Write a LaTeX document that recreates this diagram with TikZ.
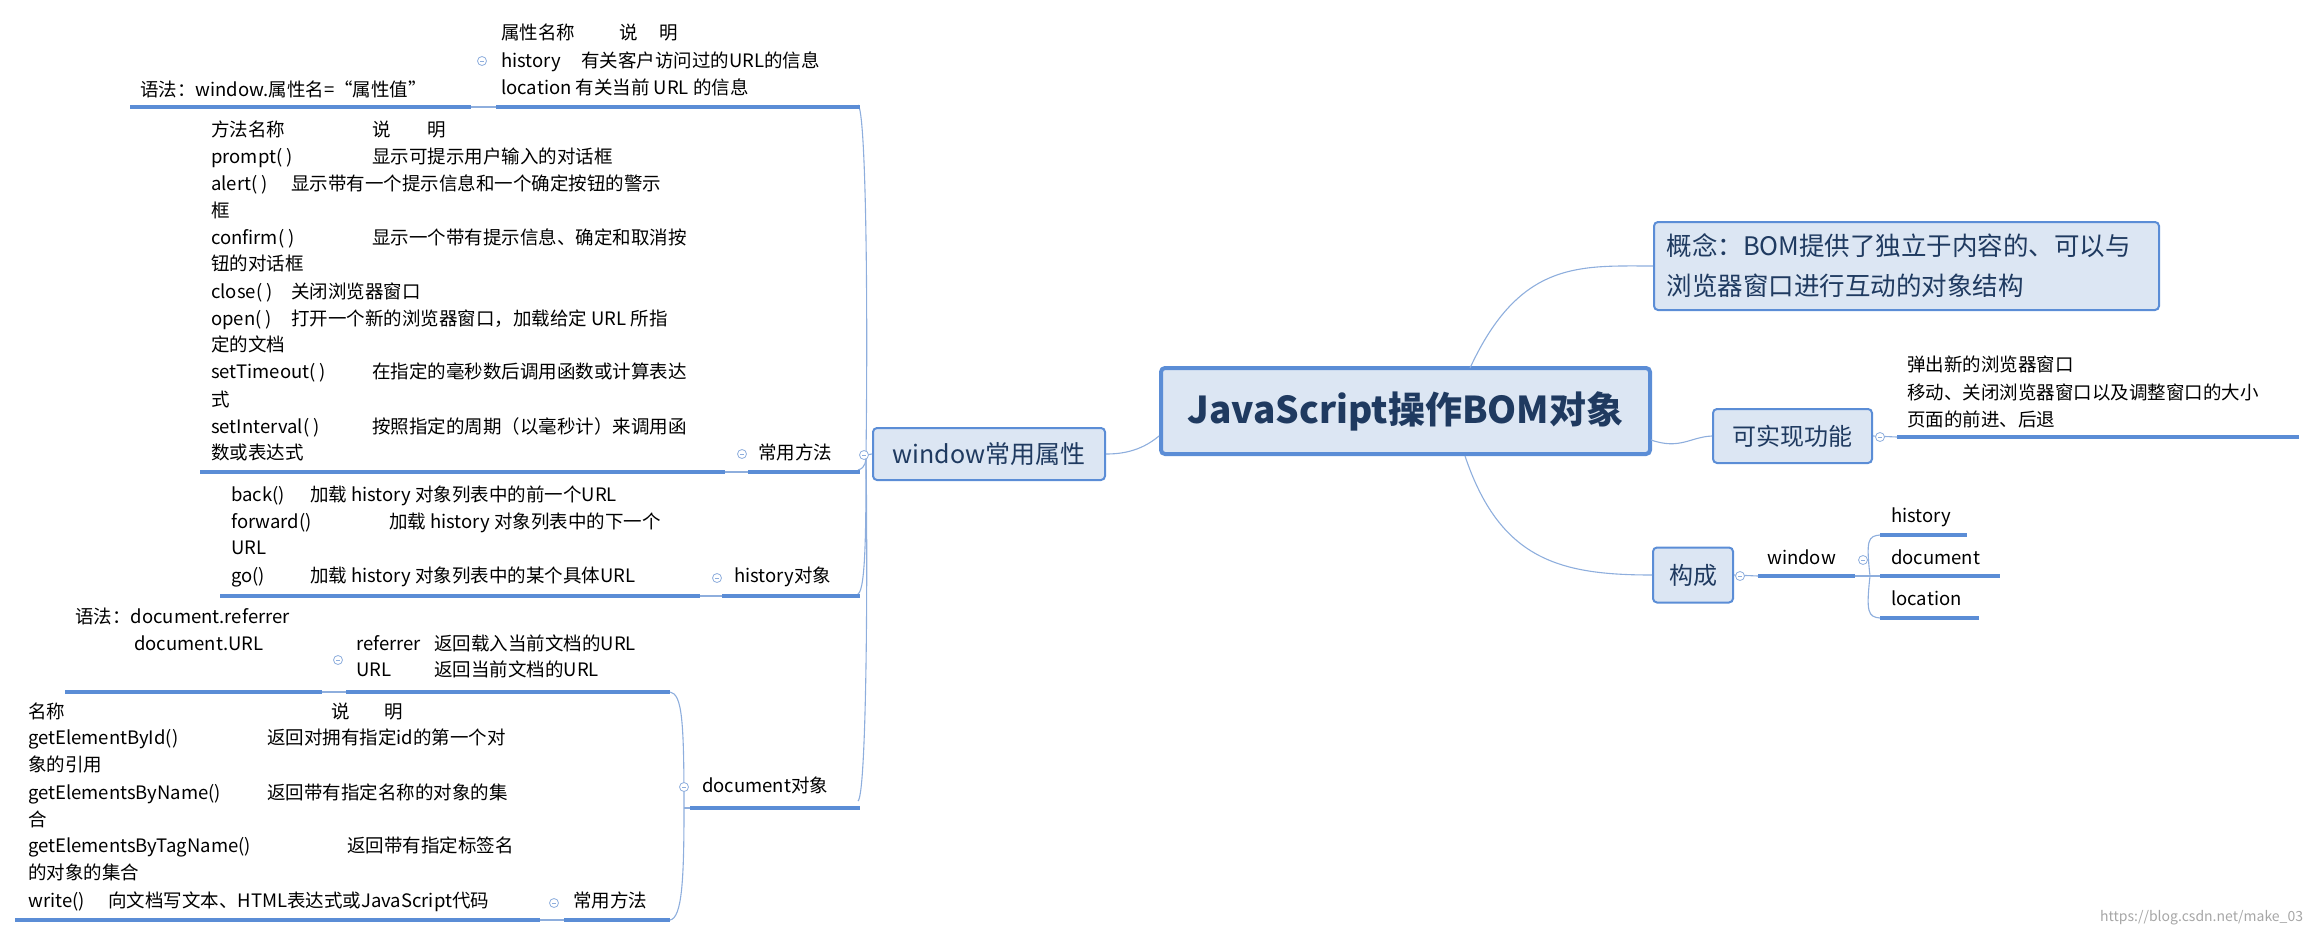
\documentclass[tikz,border=0pt]{standalone}
\usepackage{fontspec}
\setmainfont{Noto Sans CJK SC}
\definecolor{ul}{HTML}{5B8DD6}
\definecolor{cn}{HTML}{8EAEDD}
\definecolor{bf}{HTML}{DCE6F3}
\definecolor{bd}{HTML}{5B8DD6}
\definecolor{tx}{HTML}{1F3A60}
\tikzset{
 t/.style={anchor=base west,inner sep=0,font=\fontsize{18.5}{24}\selectfont},
 box/.style={draw=bd,fill=bf,rounded corners=4pt,line width=2pt,inner sep=0,text=tx},
 uline/.style={draw=ul,line width=3.5pt},
 conn/.style={draw=cn,line width=1.1pt},
 knob/.style={circle,draw=cn,fill=white,line width=0.8pt,minimum size=9pt,inner sep=0,
   path picture={\draw[cn,line width=0.8pt](path picture bounding box.west)++(2.5pt,0)--++(4pt,0);}}
}
\begin{document}
\begin{tikzpicture}[x=1pt,y=-1pt]
\useasboundingbox (0,0) rectangle (2317,936);
% center
\node[box,line width=4pt,minimum width=489,minimum height=86,font=\fontsize{37}{40}\selectfont\bfseries] (c) at (1405.5,411) {JavaScript操作BOM对象};
% right side
\node[box,minimum width=505,minimum height=88,align=left,text width=480,font=\fontsize{25.5}{40}\selectfont] (gn) at (1906.5,266) {概念：BOM提供了独立于内容的、可以与\\浏览器窗口进行互动的对象结构};
\node[box,minimum width=159,minimum height=54,font=\fontsize{24}{28}\selectfont] (kx) at (1792.5,436) {可实现功能};
\node[box,minimum width=80,minimum height=55,font=\fontsize{24}{28}\selectfont] (gc) at (1693,575) {构成};
\draw[conn] (1470,368) .. controls (1520,260) and (1580,266) .. (gn.west);
\draw[conn] (1651,440) .. controls (1680,450) and (1690,437) .. (kx.west);
\draw[conn] (1465,456) .. controls (1500,560) and (1560,575) .. (gc.west);
\node[t] at (1907,371) {弹出新的浏览器窗口};
\node[t] at (1907,399) {移动、关闭浏览器窗口以及调整窗口的大小};
\node[t] at (1907,426) {页面的前进、后退};
\coordinate (kxa) at (1897,437); \coordinate (kxb) at (2299,437);
\draw[uline] (kxa) -- (kxb);
\draw[conn] (kx.east) -- (kxa);
\node[knob] (k1) at (1880,437) {};
\node[t] (win) at (1767,564) {window};
\coordinate (wa) at (1758,576); \coordinate (wb) at (1855,576);
\draw[uline] (wa) -- (wb);
\draw[conn] (gc.east) -- (wa);
\node[knob] (k2) at (1740,576) {};
\node[t] (h1) at (1891,522) {history};
\node[t] (h2) at (1891,564) {document};
\node[t] (h3) at (1891,605) {location};
\draw[uline] (1880,535) -- (1967,535);
\draw[uline] (1880,576) -- (2000,576);
\draw[uline] (1880,618) -- (1979,618);
\draw[conn] (wb) -- (1880,576);
\draw[conn] (1870,576) .. controls (1866,540) and (1868,536) .. (1880,535);
\draw[conn] (1870,576) .. controls (1866,612) and (1868,617) .. (1880,618);
\node[knob] (k3) at (1863,560) {};
% window box
\node[box,minimum width=232,minimum height=52,font=\fontsize{25}{28}\selectfont] (w) at (989,454) {window常用属性};
\draw[conn] (c.west) ++(0,25) .. controls (1140,452) and (1120,454) .. (w.east);
% left brace
\coordinate (lb) at (866,455);
\draw[conn] (w.west) -- (lb);
\draw[conn] (lb) .. controls (868,300) and (866,110) .. (858,105);
\draw[conn] (lb) .. controls (866,460) and (866,468) .. (858,470);
\draw[conn] (lb) .. controls (866,520) and (866,590) .. (858,594);
\draw[conn] (lb) .. controls (868,600) and (866,795) .. (858,801);
\node[knob] (k4) at (864,455) {};
% top attrs
\node[t] at (140,97) {语法：window.属性名=“属性值”};
\node[t] at (501,40) {属性名称}; \node[t] at (619,40) {说}; \node[t] at (659,40) {明};
\node[t] at (501,68) {history}; \node[t] at (581,68) {有关客户访问过的URL的信息};
\node[t] at (501,95) {location 有关当前 URL 的信息};
\draw[uline] (130,107) -- (471,107);
\draw[uline] (496,107) -- (860,107);
\draw[conn] (471,107) -- (496,107);
\node[knob] (k5) at (482,61) {};
% methods
\foreach \yy/\a/\b/\bx in {137/方法名称/说/372,164/prompt( )/显示可提示用户输入的对话框/372,190/alert( )/显示带有一个提示信息和一个确定按钮的警示/291,217/框//0,244/confirm( )/显示一个带有提示信息、确定和取消按/372,270/钮的对话框//0,298/close( )/关闭浏览器窗口/291,325/open( )/打开一个新的浏览器窗口，加载给定 URL 所指/291,351/定的文档//0,378/setTimeout( )/在指定的毫秒数后调用函数或计算表达/372,406/式//0,433/setInterval( )/按照指定的周期（以毫秒计）来调用函/372,459/数或表达式//0}
 {\node[t] at (211,\yy) {\a}; \node[t] at (\bx,\yy) {\b};}
\node[t] at (427,137) {明};
\node[t] at (758,459) {常用方法};
\draw[uline] (200,472) -- (725,472);
\draw[uline] (748,472) -- (860,472);
\draw[conn] (725,472) -- (748,472);
\node[knob] (k6) at (742,454) {};
% history object
\node[t] at (231,501) {back()}; \node[t] at (310,501) {加载 history 对象列表中的前一个URL};
\node[t] at (231,528) {forward()}; \node[t] at (389,528) {加载 history 对象列表中的下一个};
\node[t] at (231,554) {URL};
\node[t] at (231,582) {go()}; \node[t] at (310,582) {加载 history 对象列表中的某个具体URL};
\node[t] at (734,582) {history对象};
\draw[uline] (220,596) -- (700,596);
\draw[uline] (722,596) -- (860,596);
\draw[conn] (700,596) -- (722,596);
\node[knob] (k7) at (717,578) {};
% document object
\node[t] at (75,623) {语法：document.referrer};
\node[t] at (134,650) {document.URL};
\node[t] at (356,650) {referrer}; \node[t] at (434,650) {返回载入当前文档的URL};
\node[t] at (356,676) {URL}; \node[t] at (434,676) {返回当前文档的URL};
\draw[uline] (65,692) -- (322,692);
\draw[uline] (346,692) -- (670,692);
\draw[conn] (322,692) -- (346,692);
\node[knob] (k8) at (338,660) {};
\foreach \yy/\a/\b/\bx in {718/名称/说/331,744/getElementById()/返回对拥有指定id的第一个对/267,771/象的引用//0,799/getElementsByName()/返回带有指定名称的对象的集/267,826/合//0,852/getElementsByTagName()/返回带有指定标签名/347,879/的对象的集合//0,907/write()/向文档写文本、HTML表达式或JavaScript代码/108}
 {\node[t] at (28,\yy) {\a}; \node[t] at (\bx,\yy) {\b};}
\node[t] at (384,718) {明};
\node[t] at (573,907) {常用方法};
\draw[uline] (15,920) -- (540,920);
\draw[uline] (564,920) -- (670,920);
\draw[conn] (540,920) -- (564,920);
\node[knob] (k9) at (554,903) {};
\node[t] at (702,792) {document对象};
\draw[uline] (690,808) -- (860,808);
\coordinate (db) at (684,808);
\draw[conn] (db) -- (690,808);
\draw[conn] (db) .. controls (684,720) and (682,694) .. (670,692);
\draw[conn] (db) .. controls (684,880) and (682,918) .. (670,920);
\node[knob] (k10) at (684,787) {};
% watermark
\node[t,text=gray!70,font=\fontsize{14}{16}\selectfont] at (2100,921) {https://blog.csdn.net/make\_03};
\end{tikzpicture}
\end{document}
